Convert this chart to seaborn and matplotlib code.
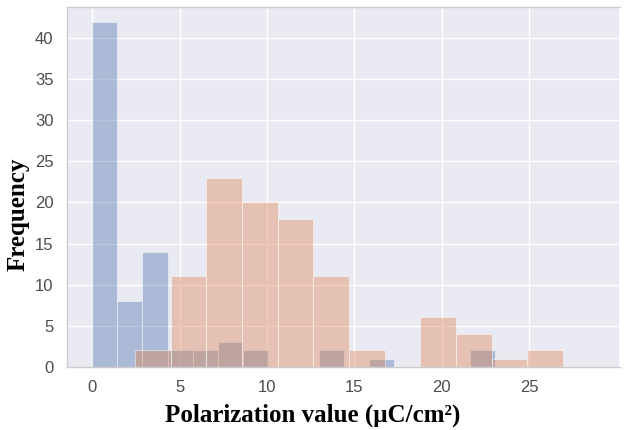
import numpy as np
import pandas as pd
import matplotlib
matplotlib.use("Agg")
import matplotlib.pyplot as plt
import seaborn as sns

# histogram counts
blue_start = 0.0
blue_width = 1.44
blue_counts = [42, 8, 14, 2, 2, 3, 2, 0, 0, 2, 0, 1, 0, 0, 0, 2]

orange_start = 2.45
orange_width = 2.04
orange_counts = [2, 11, 23, 20, 18, 11, 2, 0, 6, 4, 1, 2]

xticks = [0, 5, 10, 15, 20, 25]
yticks = [0, 5, 10, 15, 20, 25, 30, 35, 40]

sns.set_theme(style="darkgrid")
plt.rcParams["font.family"] = ["Liberation Sans", "DejaVu Sans"]

fig = plt.figure(figsize=(6.24, 4.30), dpi=100)
ax = fig.add_axes([0.107, 0.147, 0.887, 0.837])

deep = sns.color_palette("deep")

def draw_hist(start, width, counts, color):
    n = len(counts)
    edges = start + width * np.arange(n + 1)
    df = pd.DataFrame({"x": (edges[:-1] + edges[1:]) / 2, "n": counts})
    # bins as a plain list, seaborn chokes on an ndarray here
    sns.histplot(data=df, x="x", weights="n", bins=edges.tolist(), color=color,
                 alpha=0.4, edgecolor=(1, 1, 1, 0.45), linewidth=0.8, ax=ax)

draw_hist(blue_start, blue_width, blue_counts, deep[0])
draw_hist(orange_start, orange_width, orange_counts, deep[1])

ax.set_xlim(-1.45, 30.2)
ax.set_ylim(0, 43.8)
ax.set_xticks(xticks)
ax.set_yticks(yticks)
ax.tick_params(labelsize=12, labelcolor="0.3")

for side in ["left", "bottom", "top"]:
    ax.spines[side].set_visible(True)
    ax.spines[side].set_color("0.8")
    ax.spines[side].set_linewidth(1)

ax.set_xlabel("Polarization value (μC/cm²)", fontsize=18, fontweight="bold",
              family="Liberation Serif", color="black")
ax.set_ylabel("Frequency", fontsize=18, fontweight="bold",
              family="Liberation Serif", color="black")
ax.xaxis.set_label_coords(0.445, -0.103)
ax.yaxis.set_label_coords(-0.068, 0.425)

fig.savefig("out.png", dpi=100)
